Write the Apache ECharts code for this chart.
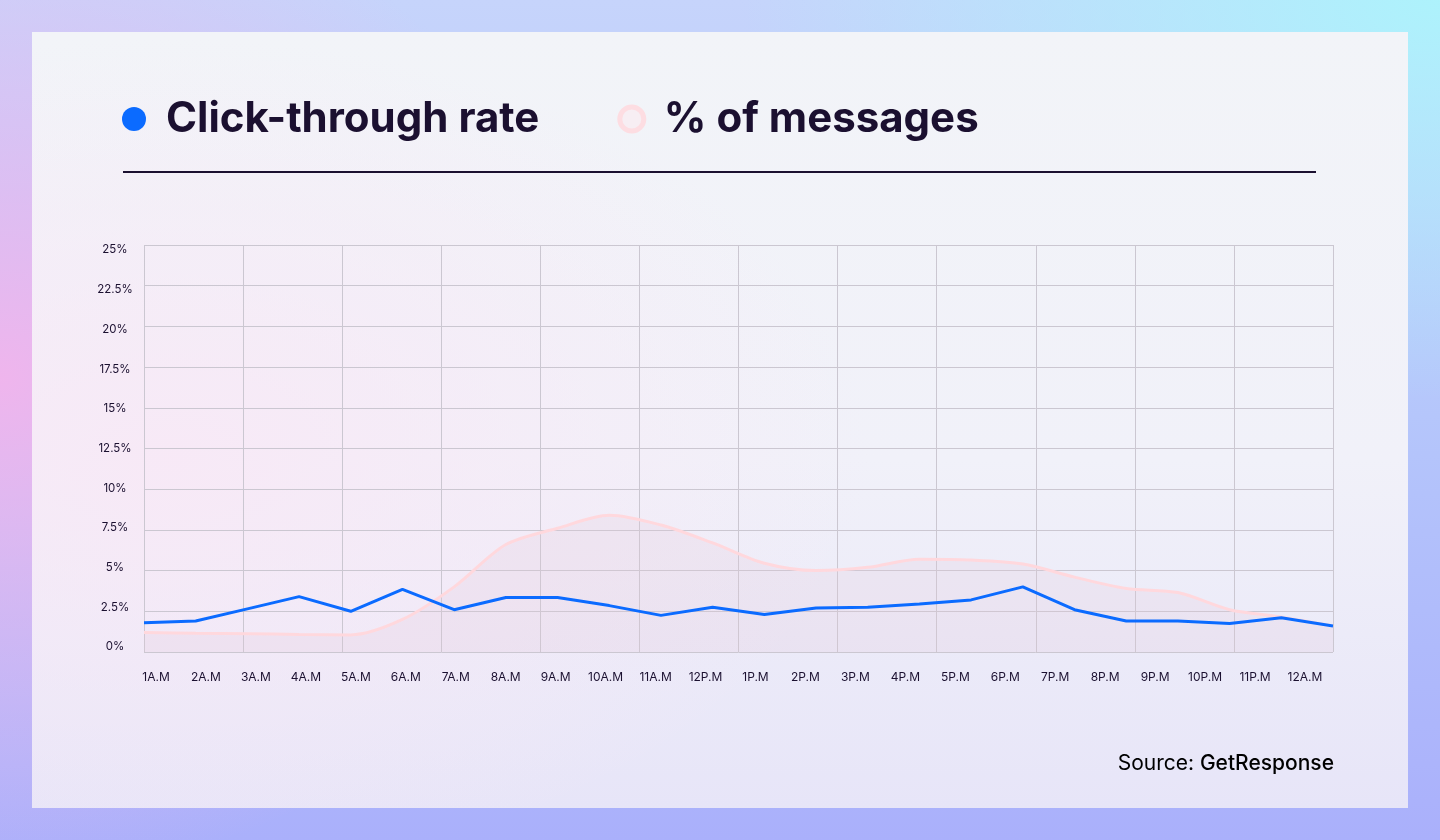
<!DOCTYPE html>
<html>
<head>
<meta charset="utf-8">
<title>Click-through rate by hour</title>
<script src="https://cdn.jsdelivr.net/npm/echarts@6/dist/echarts.min.js"></script>
<style>
    html, body { margin: 0; padding: 0; width: 1440px; height: 840px; overflow: hidden; }
    body {
        background:
            radial-gradient(ellipse 600px 500px at 0% 45%, rgba(242, 180, 236, 0.95), rgba(242, 180, 236, 0) 100%),
            radial-gradient(ellipse 700px 400px at 100% 0%, rgba(172, 244, 252, 0.95), rgba(172, 244, 252, 0) 100%),
            linear-gradient(180deg, #c6d4fb 0%, #b6c8fb 45%, #aab0fb 100%);
    }
    .card {
        position: absolute; left: 32px; top: 32px; width: 1376px; height: 776px;
        background:
            radial-gradient(ellipse 700px 420px at 10% 55%, rgba(248, 232, 246, 0.9), rgba(248, 232, 246, 0) 100%),
            linear-gradient(180deg, #f2f4f8 0%, #f1f1f9 55%, #e7e5f8 100%);
    }
    #chart { position: absolute; left: 0; top: 0; width: 1440px; height: 840px; }
</style>
</head>
<body>
<div class="card"></div>
<div id="chart"></div>
<script>
    // hours on the x axis
    const hours = ["1A.M", "2A.M", "3A.M", "4A.M", "5A.M", "6A.M", "7A.M", "8A.M", "9A.M", "10A.M", "11A.M", "12P.M",
                   "1P.M", "2P.M", "3P.M", "4P.M", "5P.M", "6P.M", "7P.M", "8P.M", "9P.M", "10P.M", "11P.M", "12A.M"];
    // click-through rate, %
    const ctr = [1.8, 1.9, 2.65, 3.4, 2.5, 3.85, 2.6, 3.35, 3.35, 2.85, 2.25, 2.75,
                 2.3, 2.7, 2.75, 2.95, 3.2, 4.0, 2.6, 1.9, 1.9, 1.75, 2.1, 1.6];
    // share of messages sent, %
    const messages = [1.2, 1.15, 1.12, 1.08, 1.05, 2.0, 4.0, 6.6, 7.6, 8.4, 7.8, 6.7,
                      5.45, 5.0, 5.2, 5.7, 5.65, 5.4, 4.6, 3.9, 3.65, 2.6, 2.15, 1.6];
    const yTicks = ["0%", "2.5%", "5%", "7.5%", "10%", "12.5%", "15%", "17.5%", "20%", "22.5%", "25%"];

    const ink = "#1b1030";
    const blue = "#0b6bff";
    const pink = "#ffd8dd";
    const gridColor = "#cbc7d1";

    let chart = echarts.init(document.getElementById("chart"), null, { renderer: "canvas" });

    chart.setOption({
        backgroundColor: "transparent",
        textStyle: { fontFamily: "Inter" },
        legend: {
            left: 122,
            top: 95,
            padding: 0,
            itemWidth: 24,
            itemHeight: 24,
            itemGap: 78,
            textStyle: {
                fontFamily: "Inter",
                fontSize: 42,
                fontWeight: 700,
                color: ink,
                lineHeight: 48,
                padding: [0, 0, 0, 15]
            },
            data: [
                { name: "Click-through rate", icon: "circle", itemStyle: { color: blue } },
                { name: "% of messages", icon: "circle",
                  itemStyle: { color: "#f7eef3", borderColor: "#fddde2", borderWidth: 5 } }
            ]
        },
        grid: [
            { left: 144, right: 107, top: 245, bottom: 188 },
            // only used to place the y labels
            { left: 144, right: 107, top: 250, bottom: 193 },
            // only used to place the hour labels
            { left: 156, right: 135, top: 245, bottom: 188 }
        ],
        xAxis: [
            {
                type: "category",
                data: hours,
                boundaryGap: false,
                axisLine: { show: false },
                axisTick: { show: false },
                splitLine: { show: false },
                axisLabel: { show: false }
            },
            {
                // vertical grid lines
                type: "value",
                min: 0, max: 12, interval: 1,
                axisLine: { show: false },
                axisTick: { show: false },
                axisLabel: { show: false },
                splitLine: { show: true, lineStyle: { color: gridColor, width: 1 } }
            },
            { type: "value", gridIndex: 1, show: false },
            {
                type: "category",
                gridIndex: 2,
                data: hours,
                boundaryGap: false,
                axisLine: { show: false },
                axisTick: { show: false },
                splitLine: { show: false },
                axisLabel: { color: ink, fontSize: 12, margin: 19, interval: 0 }
            }
        ],
        yAxis: [
            {
                type: "value",
                min: 0, max: 25, interval: 2.5,
                axisLine: { show: false },
                axisTick: { show: false },
                axisLabel: { show: false },
                splitLine: { show: true, lineStyle: { color: gridColor, width: 1 } }
            },
            {
                type: "category",
                gridIndex: 1,
                data: yTicks,
                boundaryGap: false,
                axisLine: { show: false },
                axisTick: { show: false },
                splitLine: { show: false },
                axisLabel: { color: ink, fontSize: 11.5, margin: 29, align: "center", interval: 0 }
            },
            { type: "value", gridIndex: 2, show: false }
        ],
        series: [
            {
                name: "% of messages",
                type: "line",
                data: messages,
                smooth: 0.3,
                showSymbol: false,
                z: 1,
                itemStyle: { color: pink },
                lineStyle: { color: pink, width: 3 },
                areaStyle: { color: "rgba(226, 198, 216, 0.3)" }
            },
            {
                name: "Click-through rate",
                type: "line",
                data: ctr,
                showSymbol: false,
                z: 2,
                itemStyle: { color: blue },
                lineStyle: { color: blue, width: 3 }
            }
        ],
        graphic: [
            {
                type: "line",
                shape: { x1: 123, y1: 172, x2: 1316, y2: 172 },
                style: { stroke: ink, lineWidth: 2 }
            },
            {
                type: "text",
                right: 106,
                top: 753,
                style: {
                    text: "{a|Source: }{b|GetResponse}",
                    rich: {
                        a: { fontFamily: "Inter", fontSize: 21, color: ink, fontWeight: 400 },
                        b: { fontFamily: "Inter", fontSize: 21, color: ink, fontWeight: 500 }
                    }
                }
            }
        ]
    });
</script>
</body>
</html>
